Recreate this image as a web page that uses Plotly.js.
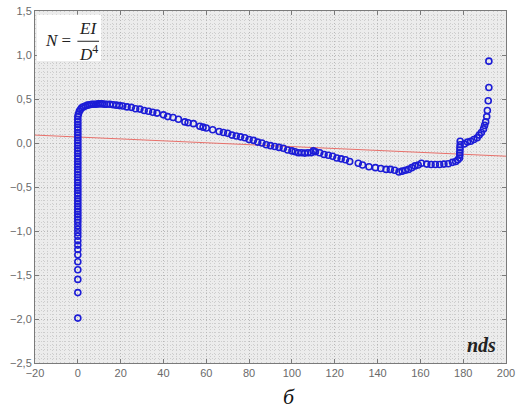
<!DOCTYPE html>
<html>
<head>
<meta charset="utf-8">
<script src="https://cdn.plot.ly/plotly-3.0.1.min.js"></script>
<style>html,body{margin:0;padding:0;background:#fff;}#chart{width:518px;height:415px;}</style>
</head>
<body>
<div id="chart"></div>
<script>
// Measured points (nds, N)
const ndsX = [
  0,0,0,0,0,0,0,0,0,0,0,0,0,0,0,0,0,0,0,0,0,0,0,0,0,0,0,0,0,0,0,0,0,0,0,0,0,0,0,0,0,0,0,0,0,0,0,0,0,0,0,0,0,0,
  0.3,0.7,1.2,1.8,2.6,3.5,4.5,5.5,6.5,7.5,8.5,9.5,10.5,11.5,12.5,13.5,15,16.5,18,19.5,21,23,25,27,29,31,33,35,37,40,42,44.5,47,50,51.5,54,57,58.5,60,63,66,68,70,72,74,76,78,80,82,84,86,88,90,92,94,96,98,100,101.5,103,104.5,106,107.5,109,110,111,113,115,117,119,121,123,125,127,131,133,136,139,141.5,144,146,148,150,151.5,153,154.5,156,157.5,159,160.5,163,165,167,169,171,173,175,176.5,177.5,178.3,178.4,178.4,178.5,178.5,178.6,178.6,180.5,182,183.5,185,186.5,187.5,188.5,189.5,190,190.5,191,191.3,191.7,192,192
];
const valueN = [
  -1.99,-1.70,-1.55,-1.44,-1.35,-1.27,-1.21,-1.16,-1.11,-1.06,-1.02,-0.98,-0.94,-0.90,-0.87,-0.84,-0.81,-0.78,-0.75,-0.72,-0.69,-0.66,-0.63,-0.60,-0.57,-0.54,-0.51,-0.48,-0.45,-0.42,-0.39,-0.36,-0.33,-0.30,-0.27,-0.24,-0.21,-0.18,-0.15,-0.12,-0.09,-0.06,-0.03,0.00,0.03,0.06,0.09,0.12,0.15,0.18,0.21,0.24,0.27,0.30,
  0.33,0.36,0.38,0.40,0.41,0.42,0.43,0.435,0.44,0.44,0.44,0.445,0.445,0.445,0.44,0.44,0.44,0.435,0.43,0.425,0.42,0.41,0.405,0.39,0.385,0.37,0.36,0.35,0.34,0.32,0.30,0.29,0.27,0.24,0.23,0.22,0.19,0.18,0.17,0.15,0.13,0.12,0.11,0.09,0.08,0.07,0.06,0.04,0.03,0.01,0.0,-0.02,-0.03,-0.04,-0.05,-0.06,-0.08,-0.09,-0.10,-0.11,-0.11,-0.115,-0.11,-0.11,-0.09,-0.10,-0.11,-0.13,-0.14,-0.15,-0.17,-0.18,-0.19,-0.21,-0.23,-0.25,-0.27,-0.28,-0.29,-0.30,-0.30,-0.31,-0.33,-0.32,-0.31,-0.30,-0.28,-0.26,-0.25,-0.23,-0.24,-0.245,-0.245,-0.245,-0.24,-0.235,-0.22,-0.21,-0.19,-0.17,-0.14,-0.11,-0.08,-0.05,-0.02,0.02,-0.01,0.01,0.02,0.04,0.06,0.09,0.12,0.16,0.20,0.24,0.30,0.37,0.48,0.63,0.93
];
const trendX = [-20, 200];
const trendY = [0.09, -0.15];
const xTicks = [-20,0,20,40,60,80,100,120,140,160,180,200];
const yTicks = [-2.5,-2.0,-1.5,-1.0,-0.5,0.0,0.5,1.0,1.5];

const traces = [
  {x: trendX, y: trendY, type: 'scatter', mode: 'lines',
   line: {color: '#e8706a', width: 1}, hoverinfo: 'skip'},
  {x: ndsX, y: valueN, type: 'scatter', mode: 'markers',
   marker: {symbol: 'circle-open', size: 6, color: '#1c1cd6', line: {width: 1.6, color: '#1c1cd6'}}}
];

const axisCommon = {
  showline: true, linecolor: '#7a7a7a', linewidth: 1, mirror: 'ticks',
  ticks: 'inside', ticklen: 4, tickcolor: '#7a7a7a',
  showgrid: true, gridcolor: '#b8b8b8', griddash: '1px,2px', gridwidth: 1,
  zeroline: false,
  tickfont: {family: 'Arial, "Liberation Sans", sans-serif', size: 11, color: '#6a6a6a'}
};

const serif = '"Liberation Serif", "Times New Roman", serif';

const layout = {
  width: 518, height: 415,
  margin: {l: 35, r: 12, t: 11, b: 52},
  paper_bgcolor: '#ffffff',
  plot_bgcolor: '#ececec',
  showlegend: false,
  separators: ', ',
  xaxis: Object.assign({}, axisCommon, {
    range: [-20, 200], tickmode: 'array', tickvals: xTicks,
    minor: {dtick: 2, showgrid: true, gridcolor: '#cdcdcd', griddash: '1px,2px', gridwidth: 1}
  }),
  yaxis: Object.assign({}, axisCommon, {
    range: [-2.5, 1.5], tickmode: 'array', tickvals: yTicks, tickformat: '.1f',
    minor: {dtick: 0.05, showgrid: true, gridcolor: '#cdcdcd', griddash: '1px,2px', gridwidth: 1}
  }),
  shapes: [
    {type: 'rect', xref: 'paper', yref: 'paper', x0: 0.004, x1: 0.14, y0: 0.858, y1: 0.989,
     fillcolor: '#ffffff', line: {width: 0}, layer: 'above'},
    {type: 'line', xref: 'paper', yref: 'paper', x0: 0.090, x1: 0.136, y0: 0.914, y1: 0.914,
     line: {color: '#222', width: 1}, layer: 'above'}
  ],
  annotations: [
    {xref: 'paper', yref: 'paper', x: 0.049, y: 0.916, xanchor: 'center', yanchor: 'middle',
     text: '<i>N</i> =', showarrow: false, font: {family: serif, size: 17, color: '#222'}},
    {xref: 'paper', yref: 'paper', x: 0.112, y: 0.951, xanchor: 'center', yanchor: 'middle',
     text: '<i>EI</i>', showarrow: false, font: {family: serif, size: 17, color: '#222'}},
    {xref: 'paper', yref: 'paper', x: 0.114, y: 0.880, xanchor: 'center', yanchor: 'middle',
     text: '<i>D</i><sup>4</sup>', showarrow: false, font: {family: serif, size: 17, color: '#222'}},
    {xref: 'paper', yref: 'paper', x: 0.947, y: 0.051, xanchor: 'center', yanchor: 'middle',
     text: '<b><i>nds</i></b>', showarrow: false, font: {family: serif, size: 20, color: '#222'}},
    {xref: 'paper', yref: 'paper', x: 0.539, y: -0.095, xanchor: 'center', yanchor: 'middle',
     text: '<i>б</i>', showarrow: false, font: {family: serif, size: 22, color: '#111'}}
  ]
};

Plotly.newPlot('chart', traces, layout, {displayModeBar: false, staticPlot: true});
</script>
</body>
</html>
